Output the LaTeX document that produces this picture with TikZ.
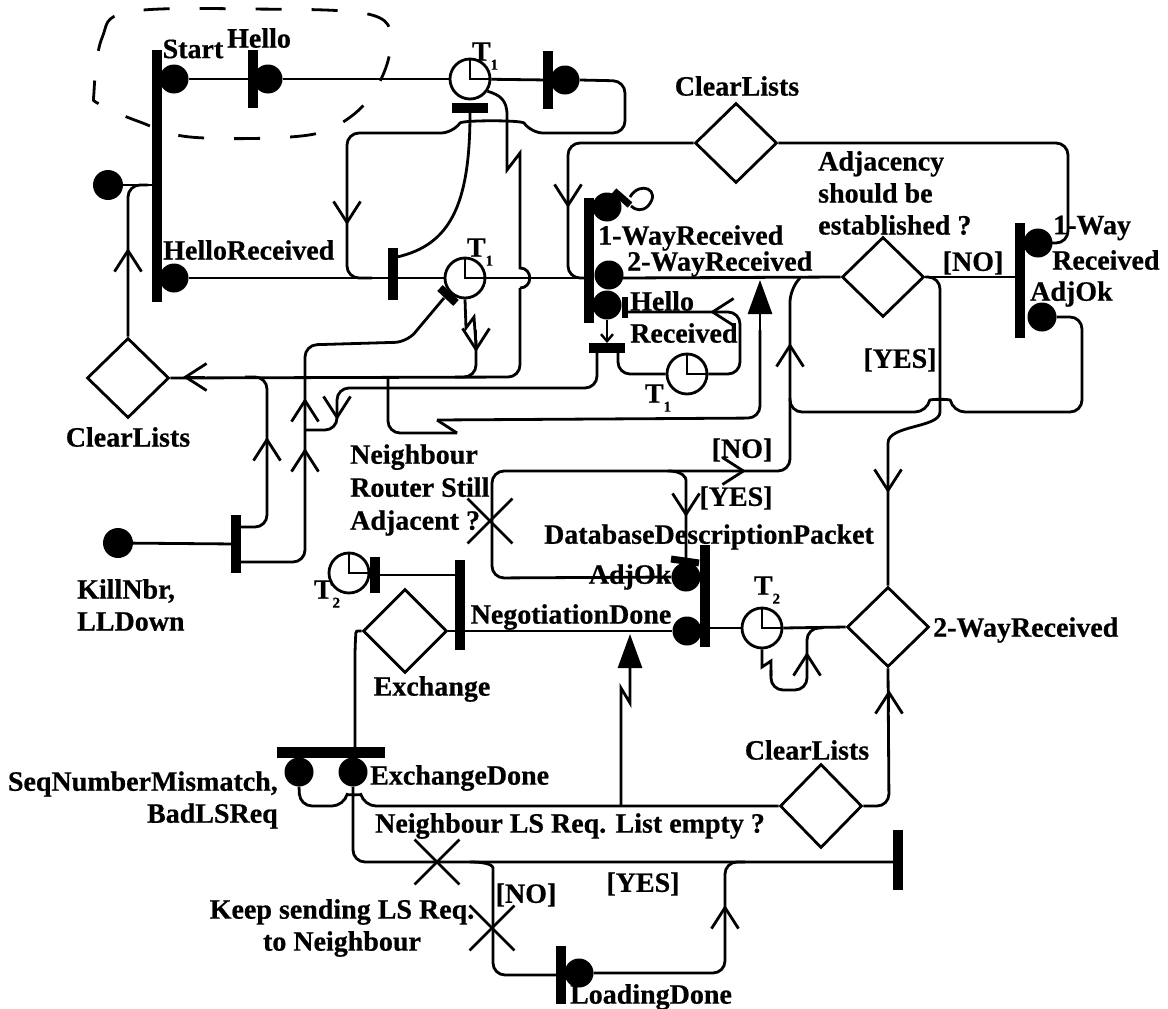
\documentclass[tikz,border=0pt]{standalone}
\usepackage{fontspec}
\setmainfont{Liberation Serif}[BoldFeatures={FakeBold=0.6}]
\usetikzlibrary{shapes.geometric,shapes.misc,arrows.meta}
\newcommand{\hands}[1]{\draw[line width=2.6pt] (#1.north) -- (#1.center) -- (#1.east);}
\newcommand{\Tsub}[1]{T\raisebox{-0.7ex}{\fontsize{15}{15}\selectfont #1}}
\begin{document}
\begin{tikzpicture}[x=1pt,y=-1pt,
    flow/.style={line width=2.8pt,rounded corners=12pt},
    zig/.style={line width=2.8pt},
    vbar/.style={fill,inner sep=0pt,minimum width=10pt},
    hbar/.style={fill,inner sep=0pt,minimum height=10pt},
    sig/.style={circle,fill,inner sep=0pt,minimum size=29pt},
    choice/.style={diamond,draw,line width=2.8pt,inner sep=0pt,minimum width=82pt,minimum height=80pt},
    timer/.style={circle,draw,line width=2.8pt,inner sep=0pt,minimum size=40pt},
    txt/.style={inner sep=0pt,font=\fontsize{28}{32}\selectfont\bfseries},
    cross/.style={cross out,draw,line width=2.8pt,inner sep=0pt,minimum size=42pt},
    vee/.style={line width=2.8pt,-{Straight Barb[length=21pt,width=27pt]}},
    tri/.style={line width=2.8pt,-{Triangle[length=34pt,width=24pt]}}]
    \useasboundingbox (0,0) rectangle (1168,1009);

    % dashed start area
    \draw[line width=2.8pt,dash pattern=on 26pt off 30pt] plot[smooth cycle,tension=0.6]
        coordinates {(94,92) (102,38) (128,12) (250,9) (372,15) (390,48) (372,95) (336,126) (290,137) (190,137) (140,122) (99,104)};

    % bars, signals, timers, choices
    \node[vbar,minimum height=252pt] (startbar) at (157,176) {};
    \node[sig] (startsig) at (174,79) {};
    \node[sig] (hrsig) at (174,278) {};
    \node[sig,minimum size=30pt] (initdot) at (108,185) {};
    \node[vbar,minimum height=58pt] (hellobar) at (253,79) {};
    \node[sig] (hellosig) at (268,79) {};
    \node[timer] (clkA) at (470,79) {}; \hands{clkA}
    \node[hbar,minimum width=36pt] (rstA) at (470,108) {};
    \node[vbar,minimum height=58pt] (barB) at (548,80) {};
    \node[sig] (sigB) at (565,80) {};
    \node[vbar,minimum height=52pt] (barC) at (393,274) {};
    \node[timer] (clkB) at (465,278) {}; \hands{clkB}
    \node[choice] (clrL) at (128,378) {};
    \node[sig,minimum size=30pt] (killdot) at (118,543) {};
    \node[vbar,minimum height=58pt] (killbar) at (236,544) {};

    \node[vbar,minimum height=125pt] (barD) at (589,260) {};
    \node[sig] (owsig) at (607,207) {};
    \node[sig] (twsig) at (609,275) {};
    \node[sig] (hsig) at (607,305) {};
    \node[hbar,minimum width=36pt] (rstD) at (607,348) {};
    \node[timer] (clkC) at (687,374) {}; \hands{clkC}
    \node[choice] (clrT) at (736,143) {};
    \node[choice] (adj) at (883,277) {};
    \node[vbar,minimum height=115pt] (barE) at (1020,280) {};
    \node[sig] (rowsig) at (1038,243) {};
    \node[sig] (radjsig) at (1042,317) {};

    \node[cross] (nrsa) at (490,521) {};
    \node[vbar,minimum height=102pt] (barF) at (705,596) {};
    \node[sig] (dbadj) at (686,577) {};
    \node[sig] (ndsig) at (687,631) {};
    \node[vbar,minimum height=90pt] (barG) at (460,605) {};
    \node[choice,minimum width=84pt,minimum height=84pt] (exch) at (405,631) {};
    \node[timer] (clkD) at (349,573) {}; \hands{clkD}
    \node[vbar,minimum height=36pt] (barH) at (375,575) {};
    \node[timer] (clkE) at (762,628) {}; \hands{clkE}
    \node[choice] (tw2) at (888,627) {};

    \node[hbar,minimum width=108pt,minimum height=11pt] (barI) at (331,752) {};
    \node[sig] (sqsig) at (299,772) {};
    \node[sig] (edsig) at (353,772) {};
    \node[choice,minimum height=84pt] (clrB) at (821,806) {};
    \node[vbar,minimum height=58pt] (barJ) at (561,975) {};
    \node[sig] (ldsig) at (579,973) {};
    \node[vbar,minimum height=60pt] (barK) at (898,860) {};
    \node[cross] (xA) at (437,862) {};
    \node[cross] (xB) at (492,928) {};

    % top left flows
    \draw[flow] (initdot) -- (startbar.west |- initdot);
    \draw[flow] (startsig) -- (hellobar);
    \draw[flow] (hellosig) -- (clkA);
    \draw[flow] (clkA) -- (barB);
    \draw[flow] (sigB.east) -- (625,81) -- (625,133) -- (531,133) .. controls (522,120) and (462,120) .. (453,133) -- (347,133) -- (347,278) -- (372,278);
    \draw[vee] (347,200) -- (347,225);
    \draw[flow] (rstA.south) .. controls (470,205) and (450,245) .. (397,257);
    \draw[flow] (hrsig) -- (barC.west |- hrsig);
    \draw[flow] (barC.east |- clkB) -- (clkB.west);
    \draw[flow] (clkB.east) -- (barD.west |- clkB);
    \draw[zig] (clkA.-35) .. controls (500,95) and (507,100) .. (507,115) -- (507,170) -- (520,153) -- (520,268) .. controls (533,268) and (533,288) .. (520,288);
    \draw[flow] (520,288) -- (520,377) -- (clrL.east);
    \draw[vee] (205,377) -- (183,377);
    \draw[zig] (clkB.south) -- (466,328) -- (474,317) -- (476,345);
    \draw[flow] (476,340) -- (476,377) -- (455,377);
    \draw[vee] (476,330) -- (476,352);
    \draw[line width=8pt] (440,288) -- (456,303);
    \draw[flow] (clrL.north) -- (128,185) -- (148,185);
    \draw[vee] (128,270) -- (128,248);

    % kill branches
    \draw[flow] (killdot) -- (killbar);
    \draw[flow] (240,562) -- (305,562) -- (305,345) -- (407,342) -- (444,298);
    \draw[vee] (305,470) -- (305,448);
    \draw[vee] (305,420) -- (305,398);
    \draw[flow] (240,527) -- (267,527) -- (267,377) -- (245,377);
    \draw[vee] (267,460) -- (267,437);
    \draw[flow] (597,352) -- (597,388) -- (337,388) -- (337,430) -- (305,430);
    \draw[vee] (337,398) -- (337,420);
    \draw[flow] (388,377) -- (388,433) -- (457,433);
    \draw[zig] (457,433) -- (437,420);
    \draw[flow] (437,420) -- (760,418) -- (760,330);
    \draw[tri] (760,330) -- (760,280);

    % 1-way / 2-way part
    \draw[flow] (clrT.west) -- (568,143) -- (568,278) -- (585,278);
    \draw[vee] (568,185) -- (568,208);
    \draw[flow] (623,278) -- (adj.west);
    \draw[flow] (clrT.east) -- (1068,143) -- (1068,243) -- (1050,243);
    \draw[flow] (622,312) -- (740,312) -- (740,374) -- (clkC.east);
    \draw[vee] (728,312) -- (710,312);
    \draw[flow] (clkC.west) -- (618,374) -- (618,353);
    \draw[line width=2.4pt,-{Straight Barb[length=7pt,width=12pt]}] (607,320) -- (607,343);
    \draw[line width=7pt] (614,191) -- (630,205);
    \draw[line width=2.8pt] (630,197) .. controls (640,180) and (662,190) .. (648,206) .. controls (642,212) and (635,210) .. (631,206);
    \draw[line width=6pt] (625,297) -- (625,318);
    \draw[flow] (adj.east) -- (barE.west |- adj.east);
    \draw[flow] (radjsig.east) -- (1082,317) -- (1082,412) -- (953,412) .. controls (950,399) and (930,399) .. (927,412) -- (790,412) -- (790,398);
    \draw[flow] (adj.east) -- (940,277) -- (940,400) .. controls (940,428) and (888,425) .. (888,455) -- (tw2.north);
    \draw[vee] (888,470) -- (888,493);

    % neighbour still adjacent loop
    \draw[flow] (dbadj.west) -- (492,578) -- (492,471) -- (790,471) -- (790,290) -- (800,278);
    \draw[vee] (790,365) -- (790,343);
    \draw[vee] (722,471) -- (746,471);
    \draw[flow] (668,471) .. controls (683,471) and (686,478) .. (686,492) -- (686,558);
    \draw[vee] (686,495) -- (686,517);
    \draw[line width=7pt] (671,559) -- (699,563);

    % negotiation / exchange
    \draw[flow] (barH.east) -- (455,575);
    \draw[flow] (exch.east) -- (455,631);
    \draw[flow] (465,631) -- (ndsig.west);
    \draw[flow] (710,628) -- (clkE.west);
    \draw[flow] (clkE.east) -- (tw2.west);
    \draw[zig] (clkE.south) -- (762,667) -- (771,661) -- (771,676);
    \draw[flow] (771,670) -- (771,690) -- (807,690) -- (807,628) -- (822,628);
    \draw[vee] (807,672) -- (807,652);
    \draw[zig] (621,806) -- (621,688) -- (630,703) -- (630,668);
    \draw[tri] (630,672) -- (630,634);
    \draw[flow] (exch.west) .. controls (356,631) .. (355,645) -- (355,747);
    \draw[flow] (sqsig.south) -- (300,806) -- (344,806) .. controls (347,795) and (361,795) .. (364,806) -- (clrB.west);
    \draw[flow] (edsig.south) -- (353,862) -- (894,862);
    \draw[flow] (470,862) .. controls (489,862) and (493,866) .. (493,880) -- (493,975) -- (557,975);
    \draw[flow] (ldsig.east) -- (725,973) -- (725,862) -- (745,862);
    \draw[vee] (725,930) -- (725,905);
    \draw[flow] (clrB.east) -- (889,806) -- (tw2.south);
    \draw[vee] (889,712) -- (889,690);

    % labels
    \node[txt] (lStart) at (193,49) {Start};
    \node[txt] (lHello) at (259,38) {Hello};
    \node[txt,anchor=west] (lHR) at (163,250) {HelloReceived};
    \node[txt] (tA) at (485,56) {\Tsub{1}};
    \node[txt] (tB) at (480,252) {\Tsub{1}};
    \node[txt] (tC) at (658,398) {\Tsub{1}};
    \node[txt] (tD) at (327,594) {\Tsub{2}};
    \node[txt] (tE) at (767,590) {\Tsub{2}};
    \node[txt] (lClrT) at (737,86) {ClearLists};
    \node[txt,anchor=west,align=left] (lAdj) at (818,193) {Adjacency\\should be\\established ?};
    \node[txt,anchor=west] (lOW) at (1053,228) {1-Way};
    \node[txt,anchor=west] (lRec) at (1052,260) {Received};
    \node[txt,anchor=west] (lAdjOk) at (1030,294) {AdjOk};
    \node[txt] (lNo1) at (973,263) {[NO]};
    \node[txt] (lYes1) at (900,360) {[YES]};
    \node[txt,anchor=west] (lOWR) at (598,238) {1-WayReceived};
    \node[txt,anchor=west] (lTWR) at (627,264) {2-WayReceived};
    \node[txt,anchor=west,align=left] (lHRec) at (630,317) {Hello\\Received};
    \node[txt] (lClrL) at (128,437) {ClearLists};
    \node[txt,anchor=west,align=left,font=\fontsize{28}{33}\selectfont\bfseries] (lNRSA) at (350,490) {Neighbour\\Router Still\\Adjacent ?};
    \node[txt] (lNo2) at (742,450) {[NO]};
    \node[txt] (lYes2) at (736,498) {[YES]};
    \node[txt] (lDDP) at (709,537) {DatabaseDescriptionPacket};
    \node[txt] (lAdjOk2) at (630,577) {AdjOk};
    \node[txt,anchor=west,align=left] (lKill) at (77,605) {KillNbr,\\LLDown};
    \node[txt] (lND) at (571,617) {NegotiationDone};
    \node[txt,anchor=west] (lTW2) at (933,630) {2-WayReceived};
    \node[txt] (lExch) at (432,689) {Exchange};
    \node[txt] (lClrB) at (807,750) {ClearLists};
    \node[txt,anchor=east,align=right] (lSeq) at (278,800) {SeqNumberMismatch,\\BadLSReq};
    \node[txt,anchor=west] (lED) at (370,778) {ExchangeDone};
    \node[txt,anchor=west] (lLSR) at (375,826) {Neighbour LS Req. List empty ?};
    \node[txt] (lNo3) at (526,895) {[NO]};
    \node[txt] (lYes3) at (643,884) {[YES]};
    \node[txt,align=center] (lKeep) at (342,928) {Keep sending LS Req.\\to Neighbour};
    \node[txt] (lLD) at (651,997) {LoadingDone};
\end{tikzpicture}
\end{document}
